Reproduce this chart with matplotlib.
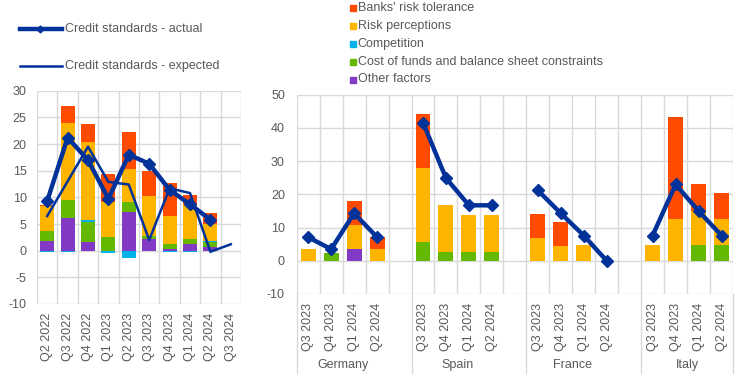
import matplotlib
matplotlib.use("Agg")
import matplotlib.pyplot as plt
from matplotlib.lines import Line2D
from matplotlib.patches import Rectangle
import numpy as np

plt.rcParams['font.family'] = ['Liberation Sans', 'DejaVu Sans']
plt.rcParams['font.size'] = 9
plt.rcParams['axes.unicode_minus'] = False

# ---------------- data ----------------
factors = ["Banks' risk tolerance", "Risk perceptions", "Competition",
           "Cost of funds and balance sheet constraints", "Other factors"]
colors = {"Banks' risk tolerance": "#FF4B00", "Risk perceptions": "#FFB400",
          "Competition": "#00B1EA",
          "Cost of funds and balance sheet constraints": "#65B800",
          "Other factors": "#8139C6"}

# Left panel: euro area
ea_quarters = ["Q2 2022", "Q3 2022", "Q4 2022", "Q1 2023", "Q2 2023",
               "Q3 2023", "Q4 2023", "Q1 2024", "Q2 2024", "Q3 2024"]
ea_other = [1.8, 6.1, 1.6, 0.0, 7.2, 2.2, 0.3, 1.2, 0.6, 0.0]
ea_cost = [1.9, 3.4, 3.7, 2.6, 1.9, 0.5, 0.9, 1.0, 1.0, 0.0]
ea_competition = [-0.3, -0.3, 0.5, -0.5, -1.4, 0.0, -0.3, -0.3, 0.3, 0.0]
ea_risk_perc = [4.6, 14.4, 14.5, 6.5, 6.3, 7.5, 5.3, 6.5, 3.1, 0.0]
ea_risk_tol = [0.3, 3.2, 3.4, 5.2, 6.9, 4.7, 6.1, 1.7, 2.0, 0.0]
ea_actual = [9.3, 21.2, 17.0, 9.7, 18.0, 16.3, 11.4, 8.7, 5.8, np.nan]
ea_expected = [6.5, 13.0, 19.5, 12.9, 12.4, 2.0, 11.7, 10.8, -0.2, 1.2]

# Right panel: countries
countries = ["Germany", "Spain", "France", "Italy"]
c_quarters = ["Q3 2023", "Q4 2023", "Q1 2024", "Q2 2024"]
c_other = {"Germany": [0, 0, 3.4, 0], "Spain": [0, 0, 0, 0],
           "France": [0, 0, 0, 0], "Italy": [0, 0, 0, 0]}
c_cost = {"Germany": [0, 2.2, 0, 0], "Spain": [5.6, 2.5, 2.5, 2.5],
          "France": [0, 0, 0, 0], "Italy": [0, 0, 4.8, 4.8]}
c_competition = {"Germany": [0, 0, 0, 0], "Spain": [0, 0, 0, 0],
                 "France": [0, 0, 0, 0], "Italy": [0, 0, 0, 0]}
c_risk_perc = {"Germany": [3.4, 0, 7.4, 3.4], "Spain": [22.4, 14.3, 11.3, 11.3],
               "France": [7.0, 4.6, 4.8, 0], "Italy": [4.8, 12.7, 10.2, 7.9]}
c_risk_tol = {"Germany": [0, 0, 7.2, 3.7], "Spain": [16.3, 0, 0, 0],
              "France": [7.2, 7.2, 0, 0], "Italy": [0, 30.7, 8.0, 7.6]}
c_actual = {"Germany": [7.1, 3.5, 14.3, 7.1], "Spain": [41.6, 24.9, 16.7, 16.7],
            "France": [21.2, 14.3, 7.6, 0.0], "Italy": [7.6, 23.0, 15.0, 7.6]}

BLUE = "#003299"
GRID = "#D9D9D9"
TXT = "#595959"

W, H = 744, 383
fig = plt.figure(figsize=(W / 100, H / 100), dpi=100)


def fbox(x0, x1, ytop, ybot):
    return [x0 / W, 1 - ybot / H, (x1 - x0) / W, (ybot - ytop) / H]


def stack_bars(ax, x, series_list, width):
    pos_base = np.zeros(len(x))
    neg_base = np.zeros(len(x))
    for name, vals in series_list:
        v = np.asarray(vals, dtype=float)
        base = np.where(v >= 0, pos_base, neg_base)
        ax.bar(x, v, width, bottom=base, color=colors[name], linewidth=0, zorder=2)
        pos_base = pos_base + np.where(v >= 0, v, 0)
        neg_base = neg_base + np.where(v < 0, v, 0)


def style_axes(ax):
    for s in ax.spines.values():
        s.set_visible(False)
    ax.tick_params(axis='both', length=0, colors=TXT, labelsize=9)
    ax.yaxis.grid(True, color=GRID, linewidth=1, zorder=0)
    ax.set_axisbelow(True)


# ---------------- left panel ----------------
axL = fig.add_axes(fbox(37, 241, 90.7, 304))
xl = np.arange(len(ea_quarters))
stack_bars(axL, xl, [("Other factors", ea_other),
                     ("Cost of funds and balance sheet constraints", ea_cost),
                     ("Competition", ea_competition),
                     ("Risk perceptions", ea_risk_perc),
                     ("Banks' risk tolerance", ea_risk_tol)], 0.68)
axL.plot(xl, ea_expected, color=BLUE, lw=1.8, zorder=3)
axL.plot(xl, ea_actual, color=BLUE, lw=3.2, marker='D', ms=6, zorder=4)
axL.set_xlim(-0.5, len(ea_quarters) - 0.5)
axL.set_ylim(-10, 30)
axL.set_yticks(np.arange(-10, 31, 5))
axL.set_xticks(xl)
axL.set_xticklabels(ea_quarters, rotation=90)
style_axes(axL)
for b in np.arange(-0.5, len(ea_quarters), 1.0):
    axL.axvline(b, color=GRID, lw=1, zorder=0)
axL.tick_params(axis='y', pad=7.5)
axL.tick_params(axis='x', pad=6.5)

# ---------------- right panel ----------------
axR = fig.add_axes(fbox(296.7, 733, 94.7, 294))
nq = len(c_quarters)
for gi, c in enumerate(countries):
    x = gi * (nq + 1) + np.arange(nq)
    stack_bars(axR, x, [("Other factors", c_other[c]),
                        ("Cost of funds and balance sheet constraints", c_cost[c]),
                        ("Competition", c_competition[c]),
                        ("Risk perceptions", c_risk_perc[c]),
                        ("Banks' risk tolerance", c_risk_tol[c])], 0.65)
    axR.plot(x, c_actual[c], color=BLUE, lw=3.2, marker='D', ms=6, zorder=4)
nslots = len(countries) * (nq + 1) - 1
axR.set_xlim(-0.5, nslots - 0.5)
axR.set_ylim(-10, 50)
axR.set_yticks(np.arange(-10, 51, 10))
ticks, labels = [], []
for gi in range(len(countries)):
    for qi, q in enumerate(c_quarters):
        ticks.append(gi * (nq + 1) + qi)
        labels.append(q)
axR.set_xticks(ticks)
axR.set_xticklabels(labels, rotation=90)
style_axes(axR)
for b in np.arange(-0.5, nslots, 1.0):
    axR.axvline(b, color=GRID, lw=1, zorder=0)
axR.tick_params(axis='y', pad=8.5)
axR.tick_params(axis='x', pad=6.5)

# group separators and labels
ext = -(373 - 294) / (294 - 94.7)
tr = axR.get_xaxis_transform()
seps = [-0.5] + [gi * (nq + 1) + nq - 0.5 + 1 for gi in range(len(countries) - 1)] + [nslots - 0.5]
for s in seps:
    axR.add_line(Line2D([s, s], [0, ext], transform=tr, color=GRID, lw=1, clip_on=False))
for gi, c in enumerate(countries):
    cx = gi * (nq + 1) + (nq - 1) / 2
    axR.text(cx, -(365 - 294) / (294 - 94.7), c, transform=tr, ha='center', va='center',
             color=TXT, fontsize=9)

# ---------------- legends ----------------
fig.add_artist(Line2D([20 / W, 62 / W], [1 - 29.3 / H] * 2, color=BLUE, lw=3.2))
fig.add_artist(Line2D([40 / W], [1 - 29.3 / H], color=BLUE, marker='D', ms=3.5, lw=0))
fig.text(65 / W, 1 - 29.3 / H, "Credit standards - actual", va='center', ha='left',
         color=TXT, fontsize=9)
fig.add_artist(Line2D([20 / W, 62 / W], [1 - 65.7 / H] * 2, color=BLUE, lw=1.8))
fig.text(65 / W, 1 - 65.7 / H, "Credit standards - expected", va='center', ha='left',
         color=TXT, fontsize=9)

ys = [8.3, 26, 44, 62, 79.5]
for name, y in zip(factors, ys):
    fig.add_artist(Rectangle((350 / W, 1 - (y + 3) / H), 6 / W, 6 / H,
                             color=colors[name], transform=fig.transFigure))
    fig.text(357.5 / W, 1 - y / H, name, va='center', ha='left', color=TXT, fontsize=9)

fig.savefig("out.png", dpi=100)
